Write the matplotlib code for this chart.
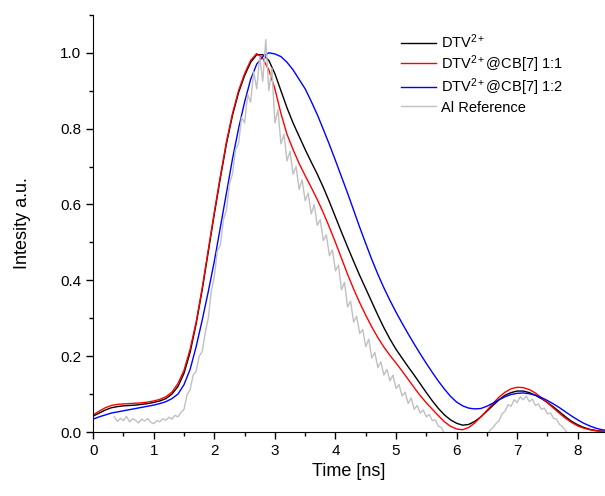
import numpy as np
import matplotlib
matplotlib.use('Agg')
import matplotlib.pyplot as plt
from matplotlib.ticker import MultipleLocator

plt.rcParams['font.family'] = ['Liberation Sans', 'DejaVu Sans']
plt.rcParams['mathtext.fontset'] = 'custom'
plt.rcParams['mathtext.rm'] = 'Liberation Sans'
plt.rcParams['mathtext.it'] = 'Liberation Sans'

# time grid of the fitted curves (ns)
t_fit = np.round(np.arange(0, 8.51, 0.1), 2)

dtv = [0.042, 0.050, 0.058, 0.064, 0.067, 0.069, 0.070, 0.071, 0.073, 0.075,
       0.078, 0.082, 0.088, 0.100, 0.120, 0.155, 0.210, 0.285, 0.375, 0.475,
       0.575, 0.670, 0.760, 0.835, 0.895, 0.940, 0.975, 0.995, 0.995, 0.980,
       0.945, 0.900, 0.855, 0.815, 0.780, 0.745, 0.712, 0.680, 0.645, 0.607,
       0.567, 0.527, 0.488, 0.450, 0.413, 0.378, 0.343, 0.308, 0.275, 0.245,
       0.218, 0.195, 0.172, 0.150, 0.127, 0.104, 0.082, 0.062, 0.045, 0.032,
       0.023, 0.018, 0.020, 0.028, 0.040, 0.055, 0.070, 0.085, 0.097, 0.104,
       0.108, 0.108, 0.104, 0.097, 0.088, 0.078, 0.066, 0.053, 0.040, 0.028,
       0.019, 0.012, 0.007, 0.004, 0.002, 0.001]

cb7_11 = [0.045, 0.055, 0.064, 0.070, 0.073, 0.074, 0.075, 0.076, 0.077, 0.079,
          0.082, 0.086, 0.093, 0.105, 0.128, 0.163, 0.218, 0.290, 0.380, 0.480,
          0.580, 0.675, 0.765, 0.840, 0.900, 0.945, 0.980, 0.998, 0.985, 0.955,
          0.905, 0.840, 0.785, 0.745, 0.708, 0.676, 0.645, 0.613, 0.578, 0.540,
          0.500, 0.458, 0.416, 0.377, 0.341, 0.308, 0.277, 0.249, 0.224, 0.202,
          0.182, 0.161, 0.139, 0.117, 0.096, 0.077, 0.060, 0.043, 0.027, 0.015,
          0.008, 0.006, 0.012, 0.024, 0.040, 0.057, 0.075, 0.092, 0.105, 0.114,
          0.118, 0.117, 0.112, 0.103, 0.090, 0.077, 0.063, 0.049, 0.036, 0.025,
          0.016, 0.010, 0.006, 0.003, 0.002, 0.001]

cb7_12 = [0.034, 0.040, 0.045, 0.050, 0.053, 0.056, 0.059, 0.062, 0.065, 0.068,
          0.071, 0.075, 0.080, 0.088, 0.100, 0.125, 0.165, 0.225, 0.295, 0.370,
          0.450, 0.540, 0.630, 0.720, 0.800, 0.870, 0.930, 0.970, 0.990, 1.000,
          0.997, 0.990, 0.975, 0.955, 0.930, 0.905, 0.872, 0.837, 0.798, 0.758,
          0.716, 0.673, 0.630, 0.585, 0.540, 0.497, 0.455, 0.416, 0.380, 0.347,
          0.316, 0.287, 0.259, 0.232, 0.206, 0.181, 0.157, 0.134, 0.113, 0.094,
          0.079, 0.069, 0.063, 0.061, 0.062, 0.068, 0.076, 0.085, 0.093, 0.099,
          0.102, 0.103, 0.101, 0.097, 0.091, 0.083, 0.074, 0.064, 0.053, 0.042,
          0.032, 0.023, 0.016, 0.010, 0.006, 0.004]

# Al reference (measured, noisy), sampled every 0.05 ns from 0.35 ns
t_ref = np.round(np.arange(0.35, 7.851, 0.05), 2)
al_ref = [0.040, 0.028, 0.036, 0.030, 0.041, 0.027, 0.035, 0.031, 0.024, 0.034,
          0.029, 0.036, 0.026, 0.022, 0.030, 0.027, 0.035, 0.031, 0.039, 0.034,
          0.044, 0.040, 0.052, 0.060, 0.098, 0.112, 0.150, 0.160, 0.200, 0.212,
          0.262, 0.300, 0.372, 0.410, 0.478, 0.492, 0.560, 0.585, 0.655, 0.680,
          0.745, 0.760, 0.830, 0.815, 0.890, 0.870, 0.950, 0.905, 0.990, 0.925,
          1.035, 0.900, 0.960, 0.815, 0.850, 0.760, 0.785, 0.715, 0.740, 0.680,
          0.700, 0.640, 0.665, 0.610, 0.630, 0.575, 0.600, 0.545, 0.560, 0.505,
          0.520, 0.465, 0.480, 0.425, 0.440, 0.375, 0.395, 0.330, 0.345, 0.290,
          0.305, 0.260, 0.270, 0.225, 0.245, 0.195, 0.210, 0.170, 0.185, 0.150,
          0.165, 0.135, 0.150, 0.115, 0.125, 0.095, 0.105, 0.075, 0.090, 0.060,
          0.070, 0.050, 0.058, 0.040, 0.046, 0.030, 0.032, 0.015, 0.012, -0.005,
          -0.015, -0.020, -0.020, -0.020, -0.020, -0.020, -0.020, -0.020, -0.020, -0.020,
          -0.020, -0.020, -0.020, -0.008, 0.004, 0.012, 0.022, 0.030, 0.048, 0.055,
          0.072, 0.068, 0.085, 0.078, 0.093, 0.085, 0.095, 0.080, 0.087, 0.070,
          0.074, 0.060, 0.063, 0.048, 0.050, 0.036, 0.034, 0.020, 0.014, 0.004,
          -0.010]

fig = plt.figure(figsize=(6.05, 4.96), dpi=100)
ax = fig.add_axes([0.154, 0.129, 0.846, 0.841])

ax.plot(t_fit, dtv, color='black', lw=1.0, label=r'DTV$^{2+}$')
ax.plot(t_fit, cb7_11, color='red', lw=1.0, label=r'DTV$^{2+}$@CB[7] 1:1')
ax.plot(t_fit, cb7_12, color='blue', lw=1.0, label=r'DTV$^{2+}$@CB[7] 1:2')
ax.plot(t_ref, al_ref, color='#c0c0c0', lw=1.0, label='Al Reference')

ax.set_xlim(0, 8.45)
ax.set_ylim(0, 1.1)
ax.xaxis.set_major_locator(MultipleLocator(1))
ax.xaxis.set_minor_locator(MultipleLocator(0.5))
ax.yaxis.set_major_locator(MultipleLocator(0.2))
ax.yaxis.set_minor_locator(MultipleLocator(0.1))
ax.yaxis.set_major_formatter(lambda v, p: f'{v:.1f}')
ax.spines['top'].set_visible(False)
ax.spines['right'].set_visible(False)
ax.tick_params(which='major', direction='out', length=5, width=1, labelsize=11)
ax.tick_params(which='minor', direction='out', length=3, width=1)
ax.set_xlabel('Time [ns]', fontsize=13, labelpad=4)
ax.set_ylabel('Intesity a.u.', fontsize=13, labelpad=21)

ax.legend(loc='upper left', bbox_to_anchor=(0.575, 0.99), frameon=False,
          fontsize=10.5, handlelength=2.4, handletextpad=0.35, labelspacing=0.15)

fig.savefig('out.png', dpi=100)
